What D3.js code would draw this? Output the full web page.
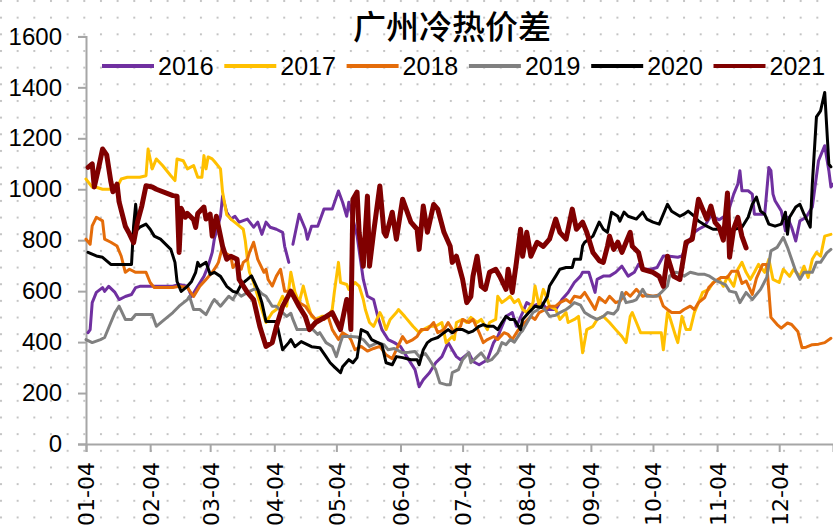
<!DOCTYPE html>
<html>
<head>
<meta charset="utf-8">
<script src="https://cdn.jsdelivr.net/npm/d3@7"></script>
<style>
  body { margin: 0; background: #ffffff; }
  svg { display: block; }
</style>
</head>
<body>
<svg id="chart" width="833" height="529"></svg>
<script>
// ---- data -------------------------------------------------------------
const title = "广州冷热价差";
const monthTicks = ["01-04","02-04","03-04","04-04","05-04","06-04","07-04","08-04","09-04","10-04","11-04","12-04"];
const yTicks = [0, 200, 400, 600, 800, 1000, 1200, 1400, 1600];
const seriesNames = ["2016", "2017", "2018", "2019", "2020", "2021"];
const seriesColors = ["#7030A0", "#FFC000", "#E46C0A", "#808080", "#000000", "#800000"];

// each point: [day of year, spread]; a null spread marks a missing stretch
const s2016 = [[5,437],[6,449],[7,555],[9,595],[12,614],[13,599],[15,619],[18,595],[20,567],[23,579],[26,587],[28,614],[30,619],[46,619],[49,626],[53,619],[55,579],[58,619],[61,658],[63,698],[65,752],[66,804],[69,894],[70,973],[72,910],[74,883],[76,894],[78,871],[82,883],[85,851],[87,871],[89,823],[91,871],[93,851],[96,843],[99,831],[100,776],[102,713],[103,null],[104,784],[107,902],[110,843],[111,804],[113,855],[116,855],[119,922],[123,922],[126,993],[128,949],[130,894],[131,949],[133,883],[135,817],[138,646],[140,580],[143,567],[145,501],[147,449],[150,410],[153,398],[156,383],[159,343],[163,292],[165,225],[167,252],[170,280],[173,319],[176,343],[179,398],[181,370],[183,343],[185,331],[189,358],[191,324],[194,311],[198,331],[201,398],[203,422],[207,501],[210,516],[212,462],[215,516],[217,555],[220,541],[224,555],[227,528],[231,528],[234,567],[237,595],[240,634],[243,659],[244,674],[247,674],[250,595],[251,646],[254,659],[257,659],[260,674],[263,698],[266,659],[269,674],[271,705],[273,686],[277,686],[280,693],[283,738],[285,738],[290,733],[292,738],[295,792],[298,831],[300,843],[303,856],[306,896],[310,880],[314,902],[317,981],[319,1020],[320,1073],[321,994],[324,994],[326,981],[327,902],[332,902],[334,1085],[335,1073],[336,981],[337,955],[340,915],[342,837],[343,890],[345,851],[347,797],[349,876],[352,890],[355,930],[358,1112],[361,1171],[363,1073],[364,1009],[365,1020]];

const s2017 = [[4,1040],[7,1008],[9,1008],[12,1000],[16,1000],[19,1008],[21,1040],[24,1047],[30,1047],[33,1053],[34,1158],[36,1080],[38,1119],[41,1093],[45,1053],[47,1034],[48,1119],[51,1112],[53,1080],[56,1093],[58,1047],[60,1047],[61,1132],[62,1080],[63,1127],[65,1119],[66,1110],[69,1080],[70,989],[72,900],[74,883],[77,863],[80,843],[81,797],[82,725],[83,674],[85,634],[87,580],[90,501],[91,477],[94,516],[96,528],[99,580],[101,541],[103,674],[105,595],[107,555],[109,620],[111,555],[113,501],[115,489],[118,501],[121,501],[123,528],[124,595],[126,713],[127,634],[130,626],[131,607],[134,634],[136,620],[138,567],[139,528],[141,477],[143,462],[146,516],[147,501],[149,449],[151,489],[154,516],[155,528],[158,501],[162,462],[165,437],[167,449],[170,462],[173,462],[176,477],[178,398],[181,422],[182,410],[183,477],[186,489],[188,477],[190,497],[193,477],[195,489],[198,449],[199,477],[202,489],[203,580],[205,555],[207,567],[209,580],[211,555],[213,567],[215,528],[217,516],[220,555],[221,620],[223,541],[225,607],[227,567],[228,541],[231,528],[233,489],[236,516],[237,477],[240,489],[242,501],[244,358],[246,449],[249,462],[251,489],[254,501],[257,477],[260,449],[263,422],[265,398],[267,501],[268,516],[270,477],[272,437],[282,437],[283,370],[285,516],[286,501],[289,422],[290,398],[292,501],[294,449],[296,449],[298,516],[300,555],[302,595],[305,607],[307,634],[310,646],[312,619],[314,658],[317,619],[319,686],[321,713],[323,674],[325,646],[327,674],[329,705],[332,674],[334,725],[336,646],[339,634],[341,686],[344,658],[346,686],[349,658],[351,698],[353,654],[355,725],[357,752],[359,737],[361,816],[364,823]];

const s2018 = [[4,804],[6,784],[7,856],[9,890],[12,876],[13,804],[16,792],[19,777],[21,738],[23,674],[25,686],[28,674],[33,674],[35,634],[37,614],[46,614],[49,619],[53,614],[56,579],[59,619],[62,646],[65,674],[67,698],[68,713],[70,776],[71,752],[74,737],[75,693],[77,713],[79,686],[80,713],[82,725],[83,752],[85,792],[87,725],[90,674],[91,686],[92,646],[94,620],[96,659],[98,686],[100,600],[103,600],[105,570],[107,555],[110,541],[112,516],[115,489],[119,489],[121,501],[123,449],[126,410],[128,437],[131,422],[132,410],[134,370],[137,383],[140,365],[143,375],[146,383],[149,350],[152,335],[154,370],[157,422],[159,398],[162,410],[164,422],[166,449],[169,449],[172,477],[174,437],[177,449],[179,477],[182,437],[185,462],[186,489],[189,477],[191,489],[194,437],[196,398],[198,410],[201,422],[203,410],[206,437],[208,430],[210,410],[213,449],[216,477],[219,501],[221,489],[223,516],[226,528],[228,541],[231,541],[233,555],[236,567],[238,555],[240,580],[243,575],[245,595],[248,555],[250,528],[252,575],[255,555],[257,580],[260,555],[262,560],[265,595],[267,580],[270,607],[273,580],[275,585],[278,580],[281,585],[283,541],[285,528],[287,516],[291,516],[293,528],[296,541],[298,528],[300,555],[303,575],[305,615],[308,639],[311,654],[314,654],[316,678],[319,678],[321,630],[323,640],[326,587],[328,650],[331,705],[333,705],[335,497],[338,469],[340,455],[343,475],[345,469],[348,442],[350,378],[352,380],[355,390],[358,392],[361,398],[364,415]];

const s2019 = [[4,410],[7,398],[11,410],[13,418],[16,477],[18,516],[20,541],[23,489],[26,489],[28,508],[36,508],[38,462],[41,482],[46,516],[49,541],[53,567],[54,580],[56,528],[59,528],[62,508],[65,555],[66,567],[69,541],[73,580],[75,567],[77,595],[79,580],[82,595],[85,607],[87,607],[89,590],[91,580],[94,541],[96,541],[99,516],[101,501],[103,513],[104,489],[106,449],[111,449],[113,455],[116,430],[117,437],[120,398],[123,383],[125,343],[127,398],[128,422],[132,422],[135,420],[138,410],[141,383],[145,398],[148,390],[150,370],[153,375],[157,358],[160,360],[163,363],[165,343],[168,355],[170,331],[173,292],[175,240],[178,233],[180,233],[181,280],[184,292],[186,331],[189,358],[190,319],[193,343],[195,358],[198,324],[200,331],[203,358],[205,398],[207,390],[209,410],[211,400],[214,437],[215,445],[218,489],[220,516],[222,525],[224,541],[226,525],[228,501],[231,505],[233,516],[236,528],[238,540],[240,555],[243,545],[245,516],[248,501],[251,489],[254,501],[256,516],[259,510],[261,528],[263,595],[265,555],[268,560],[270,567],[273,607],[275,580],[280,580],[282,595],[285,620],[286,659],[289,674],[291,670],[293,659],[296,674],[298,670],[300,666],[303,666],[305,660],[309,639],[313,626],[315,600],[318,595],[320,555],[323,595],[326,567],[330,607],[333,654],[335,758],[338,772],[341,811],[343,772],[345,725],[347,678],[349,646],[351,674],[355,674],[357,713],[359,713],[362,750],[364,764]];

const s2020 = [[5,752],[9,738],[12,733],[16,705],[26,705],[27,855],[28,941],[29,843],[30,851],[33,863],[35,843],[37,816],[40,804],[45,764],[47,713],[48,638],[50,599],[53,619],[55,638],[57,674],[58,713],[59,698],[62,713],[64,666],[66,674],[69,658],[72,619],[75,599],[77,595],[79,626],[82,646],[84,660],[87,607],[89,555],[91,481],[96,481],[99,370],[102,398],[103,410],[105,382],[108,402],[111,390],[113,382],[117,378],[120,343],[122,319],[124,303],[127,280],[128,303],[131,331],[133,319],[135,339],[137,449],[140,437],[142,410],[145,398],[147,390],[149,319],[152,311],[154,343],[157,339],[161,331],[164,331],[165,311],[167,370],[169,398],[171,410],[174,418],[177,437],[179,449],[181,437],[183,449],[186,449],[189,437],[191,443],[194,462],[196,469],[198,462],[201,462],[203,449],[205,477],[207,501],[209,489],[211,489],[214,449],[215,489],[218,516],[221,541],[224,536],[227,580],[228,620],[231,659],[233,686],[236,693],[239,693],[240,725],[243,725],[244,778],[245,792],[249,816],[252,871],[254,843],[256,831],[258,910],[261,894],[262,875],[264,910],[266,894],[270,883],[273,910],[275,883],[278,871],[281,863],[285,941],[287,914],[291,894],[293,902],[295,914],[298,894],[300,875],[304,855],[307,843],[310,843],[314,835],[321,851],[324,890],[326,941],[328,969],[330,914],[332,902],[334,863],[337,855],[340,863],[342,910],[343,823],[344,890],[347,930],[349,941],[351,902],[354,851],[355,1020],[357,1284],[359,1308],[361,1380],[363,1099],[364,1088]];

const s2021 = [[5,1086],[7,1100],[8,1009],[10,1080],[12,1158],[14,1135],[16,1030],[17,990],[19,1020],[20,950],[23,855],[25,825],[27,790],[29,875],[31,935],[33,1014],[36,1009],[38,1000],[46,975],[48,973],[49,752],[50,925],[52,890],[53,905],[56,880],[57,850],[58,905],[61,930],[62,883],[64,902],[65,816],[67,894],[70,776],[72,725],[74,737],[77,725],[78,646],[82,595],[85,567],[88,461],[91,383],[94,398],[96,461],[99,540],[103,600],[107,540],[110,500],[112,449],[115,477],[120,500],[123,516],[127,449],[128,489],[130,567],[131,555],[132,449],[133,961],[135,989],[136,831],[138,698],[140,973],[141,698],[143,831],[146,1013],[148,831],[149,816],[152,910],[154,804],[157,961],[161,871],[164,843],[165,764],[167,934],[169,831],[172,940],[174,922],[177,831],[180,776],[181,713],[183,737],[186,646],[188,555],[190,579],[191,658],[193,737],[195,619],[197,607],[199,674],[202,686],[204,658],[207,607],[208,686],[210,595],[212,713],[214,843],[215,737],[217,831],[219,737],[222,792],[225,776],[228,804],[231,883],[233,831],[236,804],[239,922],[241,843],[244,871],[246,831],[249,752],[252,720],[254,713],[256,776],[257,816],[259,764],[261,792],[263,752],[265,792],[267,831],[268,776],[271,752],[273,686],[278,674],[281,658],[283,619],[285,737],[288,658],[291,646],[294,792],[297,804],[300,961],[302,922],[304,883],[306,934],[308,870],[310,851],[312,800],[314,985],[315,733],[317,845],[319,890],[321,815],[323,770]];

const seriesData = [s2016, s2017, s2018, s2019, s2020, s2021];

// ---- layout -----------------------------------------------------------
const W = 833, H = 529;
const plot = { left: 86, right: 833, top: 36.4, bottom: 444 };
const svg = d3.select("#chart");
const baseYear = 2020;
const dayToDate = doy => new Date(baseYear, 0, doy);
const parseTick = d3.timeParse("%Y-%m-%d");

// dotted backdrop
const defs = svg.append("defs");
const step = W / 50;
const pat = defs.append("pattern")
  .attr("id", "dots").attr("patternUnits", "userSpaceOnUse")
  .attr("width", step).attr("height", step);
pat.append("rect").attr("x", 0).attr("y", 0).attr("width", 2).attr("height", 2).attr("fill", "#c4c4c4");
svg.append("rect").attr("width", W).attr("height", H).attr("fill", "#ffffff");
svg.append("rect").attr("width", W).attr("height", H).attr("fill", "url(#dots)");

const x = d3.scaleTime()
  .domain([new Date(baseYear, 0, 4), new Date(baseYear, 11, 30)])
  .range([plot.left, plot.right]);
const y = d3.scaleLinear().domain([0, 1600]).range([plot.bottom, plot.top]);

// y axis
const yAxis = svg.append("g")
  .attr("transform", `translate(${plot.left},0)`)
  .call(d3.axisLeft(y).tickValues(yTicks).tickSize(8).tickPadding(16).tickFormat(d3.format("d")));
yAxis.select(".domain").attr("stroke", "#a6a6a6").attr("stroke-width", 2);
yAxis.selectAll(".tick line").attr("stroke", "#a6a6a6").attr("stroke-width", 2);
yAxis.selectAll(".tick text")
  .attr("fill", "#000").style("font-family", "'Liberation Sans', Arial, sans-serif").style("font-size", "24px");

// x axis
const xAxis = svg.append("g")
  .attr("transform", `translate(0,${plot.bottom})`)
  .call(d3.axisBottom(x)
    .tickValues(monthTicks.map(t => parseTick(baseYear + "-" + t)))
    .tickSize(8)
    .tickFormat(d3.timeFormat("%m-%d")));
xAxis.select(".domain").attr("stroke", "#a6a6a6").attr("stroke-width", 2);
xAxis.selectAll(".tick line").attr("stroke", "#a6a6a6").attr("stroke-width", 2);
xAxis.selectAll(".tick text")
  .attr("fill", "#000")
  .style("font-family", "'DejaVu Sans', sans-serif").style("font-size", "22px")
  .attr("text-anchor", "end")
  .attr("transform", "rotate(-90)")
  .attr("x", -18).attr("y", 0).attr("dy", "0.36em");

// series lines
const line = d3.line()
  .defined(d => d[1] != null)
  .x(d => x(dayToDate(d[0])))
  .y(d => y(d[1]));

seriesData.forEach((data, i) => {
  svg.append("path")
    .datum(data)
    .attr("fill", "none")
    .attr("stroke", seriesColors[i])
    .attr("stroke-width", i === 5 ? 5 : 3)
    .attr("stroke-linejoin", "round")
    .attr("stroke-linecap", "round")
    .attr("d", line);
});

// title
svg.append("text")
  .attr("x", 452).attr("y", 39)
  .attr("text-anchor", "middle")
  .style("font-family", "'Noto Sans CJK SC', sans-serif")
  .style("font-size", "33px")
  .style("font-weight", "500")
  .attr("fill", "#000")
  .text(title);

// legend
const legend = svg.append("g");
seriesNames.forEach((name, i) => {
  const lx = 102 + i * 122.3;
  legend.append("line")
    .attr("x1", lx).attr("x2", lx + 52)
    .attr("y1", 66).attr("y2", 66)
    .attr("stroke", seriesColors[i]).attr("stroke-width", 4);
  legend.append("text")
    .attr("x", lx + 56).attr("y", 75)
    .style("font-family", "'Liberation Sans', Arial, sans-serif")
    .style("font-size", "25px")
    .attr("fill", "#000")
    .text(name);
});
</script>
</body>
</html>
